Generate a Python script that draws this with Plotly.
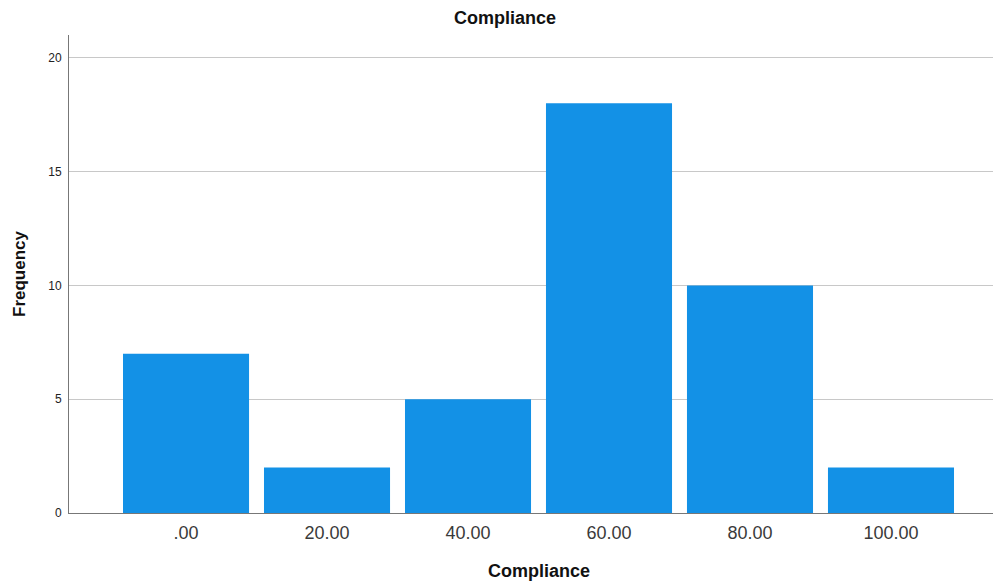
import plotly.graph_objects as go

categories = [".00", "20.00", "40.00", "60.00", "80.00", "100.00"]
frequency = [7, 2, 5, 18, 10, 2]
y_ticks = [0, 5, 10, 15, 20]

FONT = "Liberation Sans, Arial, sans-serif"

fig = go.Figure(go.Bar(
    x=categories, y=frequency,
    marker=dict(color="#1391e6", line=dict(width=0)),
))

# page body has an 8px default margin; margins compensate for it
fig.update_layout(
    width=1001, height=583,
    margin=dict(l=61, r=0, t=27, b=78, autoexpand=False),
    paper_bgcolor="white", plot_bgcolor="white",
    bargap=0.106,
    showlegend=False,
    font=dict(family=FONT, color="#222222"),
    title=dict(text="<b>Compliance</b>", xref="container", yref="container",
               x=0.4965, xanchor="center", y=0.983, yanchor="middle",
               font=dict(size=18, color="#111111", family=FONT)),
)
fig.update_xaxes(
    type="category", range=[-0.83, 5.837], automargin=False,
    showline=True, linecolor="#777777", linewidth=1,
    showgrid=False, ticks="", ticklabelstandoff=3,
    tickfont=dict(size=18, color="#3a3a3a"),
    title=dict(text="<b>Compliance</b>", font=dict(size=18, color="#111111"), standoff=22),
)
fig.update_yaxes(
    range=[0, 21], tickvals=y_ticks, automargin=False,
    showline=True, linecolor="#777777", linewidth=1,
    showgrid=True, gridcolor="#c8c8c8", gridwidth=1,
    zeroline=False, ticks="", ticklabelstandoff=4,
    tickfont=dict(size=12, color="#222222"),
    title=dict(text="<b>Frequency</b>", font=dict(size=17, color="#111111"), standoff=18),
)

fig.write_html("out.html")
